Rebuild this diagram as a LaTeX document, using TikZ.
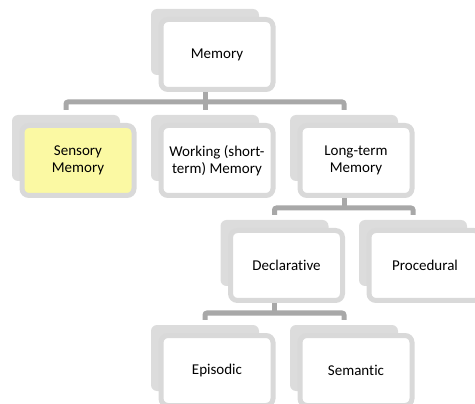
\documentclass[tikz,border=0pt]{standalone}
\usepackage{fontspec}
\setmainfont{Carlito}[Ligatures=NoCommon]
\usetikzlibrary{calc}
\definecolor{shadegray}{HTML}{DCDCDC}
\definecolor{framegray}{HTML}{D9D9D9}
\definecolor{linkgray}{HTML}{A8A8A8}
\definecolor{paleyellow}{HTML}{FBF9A3}
\tikzset{
  backbox/.style={rounded corners=6pt, fill=shadegray, minimum width=108pt, minimum height=66pt, inner sep=0pt},
  frontbox/.style={rounded corners=7pt, draw=framegray, line width=5pt, fill=white, minimum width=112pt, minimum height=70pt, inner sep=0pt, align=center, font=\fontsize{15}{17.5}\selectfont},
  link/.style={draw=linkgray, line width=5pt, rounded corners=2pt}
}
\begin{document}
\begin{tikzpicture}[x=1pt,y=-1pt]
        \useasboundingbox (0,0) rectangle (475,404);

        % shadow boxes
        \node[backbox] (memB) at (205,42) {};
        \node[backbox] (senB) at (66,148) {};
        \node[backbox] (wrkB) at (205,148) {};
        \node[backbox] (ltmB) at (344,148) {};
        \node[backbox] (decB) at (274.5,253) {};
        \node[backbox] (proB) at (413,253) {};
        \node[backbox] (epiB) at (205,358) {};
        \node[backbox] (semB) at (344,358) {};

        % front boxes
        \node[frontbox] (mem) at ($(memB)+(12,12.5)$) {Memory};
        \node[frontbox, fill=paleyellow] (sen) at ($(senB)+(12,12.5)$) {Sensory\\Memory};
        \node[frontbox] (wrk) at ($(wrkB)+(12,12.5)$) {Working (short-\\term) Memory};
        \node[frontbox] (ltm) at ($(ltmB)+(12,12.5)$) {Long-term\\Memory};
        \node[frontbox] (dec) at ($(decB)+(12,12.5)$) {Declarative};
        \node[frontbox] (pro) at ($(proB)+(12,12.5)$) {Procedural};
        \node[frontbox] (epi) at ($(epiB)+(12,12.5)$) {Episodic};
        \node[frontbox] (sem) at ($(semB)+(12,12.5)$) {Semantic};

        % connectors
        \coordinate (busA) at ($(mem.south)+(0,10)$);
        \coordinate (busB) at ($(ltm.south)+(0,10)$);
        \coordinate (busC) at ($(dec.south)+(0,10)$);

        \draw[link] (memB |- mem.south) -- (memB |- busA);
        \draw[link] ([yshift=5pt]senB.north) |- (busA) -| ([yshift=5pt]ltmB.north);
        \draw[link] (wrkB |- busA) -- ([yshift=5pt]wrkB.north);

        \draw[link] (ltmB |- ltm.south) -- (ltmB |- busB);
        \draw[link] ([yshift=5pt]decB.north) |- (busB) -| ([yshift=5pt]proB.north);

        \draw[link] (decB |- dec.south) -- (decB |- busC);
        \draw[link] ([yshift=5pt]epiB.north) |- (busC) -| ([yshift=5pt]semB.north);
\end{tikzpicture}
\end{document}
